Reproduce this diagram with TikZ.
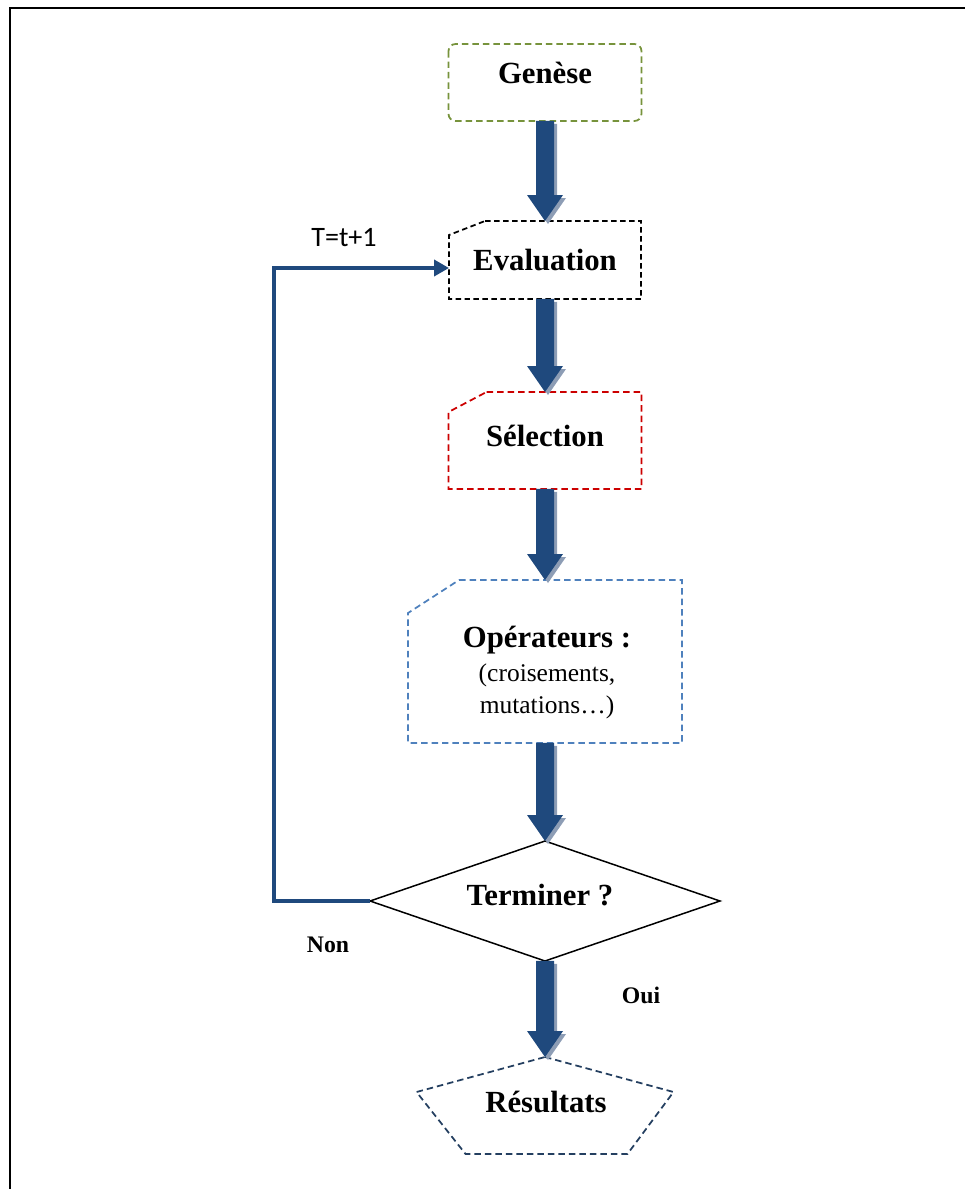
\documentclass[tikz,border=0pt]{standalone}
\usepackage{fontspec}
\setmainfont{Liberation Serif}
\newfontfamily\calibrifont{Carlito}
\usetikzlibrary{calc,arrows.meta}

\definecolor{boxgreen}{RGB}{119,147,60}
\definecolor{boxred}{RGB}{204,0,0}
\definecolor{boxblue}{RGB}{79,129,189}
\definecolor{boxnavy}{RGB}{36,63,96}
\definecolor{flowblue}{RGB}{31,73,125}
\definecolor{flowshade}{RGB}{141,157,181}

% outline of a vertical block arrow from #1 to #2, moved by the offset #3
\newcommand\arrowpoly[3]{%
  ($(#1)+#3+(-9,0)$) -- ($(#1)+#3+(9,0)$) -- ($(#2)+#3+(9,-26)$) --
  ($(#2)+#3+(18,-26)$) -- ($(#2)+#3$) -- ($(#2)+#3+(-18,-26)$) --
  ($(#2)+#3+(-9,-26)$) -- cycle}
% block arrow with its grey drop shadow, from the foot of node #1 to the top of node #2
\newcommand\blockarrow[2]{%
  \path (#1.south) coordinate (ba-s) (#2.north) coordinate (ba-e);
  \fill[flowshade] \arrowpoly{ba-s}{ba-e}{(3,3)};
  \fill[flowblue] \arrowpoly{ba-s}{ba-e}{(0,0)};
}

\tikzset{
  shapebox/.style={draw=none, rectangle, inner sep=0pt, outer sep=0pt},
  dashline/.style={line width=0.035cm, dash pattern=on 0.13cm off 0.08cm},
  lbl/.style={font=\bfseries\fontsize{17.5}{20}\selectfont, inner sep=0pt, anchor=base},
  sublbl/.style={font=\fontsize{14.5}{17}\selectfont, inner sep=0pt, anchor=base},
  smalllbl/.style={font=\bfseries\fontsize{13.5}{16}\selectfont, inner sep=0pt, anchor=base},
  looplbl/.style={font=\calibrifont\fontsize{16}{19}\selectfont, inner sep=0pt, anchor=base},
  loopline/.style={draw=flowblue, line width=0.075cm, -{Triangle[length=0.3cm,width=0.32cm]}},
}

\begin{document}
\begin{tikzpicture}[x=0.02cm, y=-0.02cm]
  \useasboundingbox (0,0) rectangle (965,1189);

  % frame
  \draw[line width=0.046cm] (10,1189) -- (10,8) -- (965,8);

  % shapes
  \node[shapebox, minimum width=3.86cm, minimum height=1.54cm] (genese) at (545,82.5) {};
  \node[shapebox, minimum width=3.84cm, minimum height=1.56cm] (eval) at (545,260) {};
  \node[shapebox, minimum width=3.86cm, minimum height=1.94cm] (sel) at (545,440.5) {};
  \node[shapebox, minimum width=5.48cm, minimum height=3.26cm] (ops) at (545,661.5) {};
  \node[shapebox, minimum width=7cm, minimum height=2.4cm] (term) at (545,901) {};
  \node[shapebox, minimum width=5.14cm, minimum height=1.94cm] (res) at (545,1105.5) {};

  % outlines
  \draw[dashline, boxgreen, rounded corners=0.14cm] (genese.north west) rectangle (genese.south east);
  \draw[dashline, black, dash pattern=on 0.11cm off 0.07cm]
    ($(eval.north west)+(36,0)$) -- (eval.north east) -- (eval.south east)
    -- (eval.south west) -- ($(eval.north west)+(0,14)$) -- cycle;
  \draw[dashline, boxred]
    ($(sel.north west)+(38,0)$) -- (sel.north east) -- (sel.south east)
    -- (sel.south west) -- ($(sel.north west)+(0,20)$) -- cycle;
  \draw[dashline, boxblue]
    ($(ops.north west)+(51,0)$) -- (ops.north east) -- (ops.south east)
    -- (ops.south west) -- ($(ops.north west)+(0,33)$) -- cycle;
  \draw[line width=0.03cm, black] (term.north) -- (term.east) -- (term.south) -- (term.west) -- cycle;
  \draw[dashline, boxnavy]
    (res.north) -- ($(res.east)+(0,-13.5)$) -- ($(res.south east)+(-46,0)$)
    -- ($(res.south west)+(49,0)$) -- ($(res.west)+(0,-13.5)$) -- cycle;

  % labels
  \node[lbl] (geneseT) at (545,84) {Genèse};
  \node[lbl] (evalT) at (545,271) {Evaluation};
  \node[lbl] (selT) at (545,446) {Sélection};
  \node[lbl] (opsT) at (547,647) {Opérateurs :};
  \node[sublbl] (opsA) at (547,681) {(croisements,};
  \node[sublbl] (opsB) at (547,713) {mutations…)};
  \node[lbl] (termT) at (540,905) {Terminer ?};
  \node[lbl] (resT) at (546,1112) {Résultats};

  % main flow
  \blockarrow{genese}{eval}
  \blockarrow{eval}{sel}
  \blockarrow{sel}{ops}
  \blockarrow{ops}{term}
  \blockarrow{term}{res}

  % loop back to the evaluation
  \coordinate (loopx) at (274,0);
  \coordinate (loopin) at ($(eval.west)+(0,8)$);
  \draw[loopline] (term.west) -- (term.west -| loopx) |- (loopin);

  \node[looplbl] (iter) at (344,247) {T=t+1};
  \node[smalllbl] (non) at (328,952) {Non};
  \node[smalllbl] (oui) at (641,1003) {Oui};
\end{tikzpicture}
\end{document}
